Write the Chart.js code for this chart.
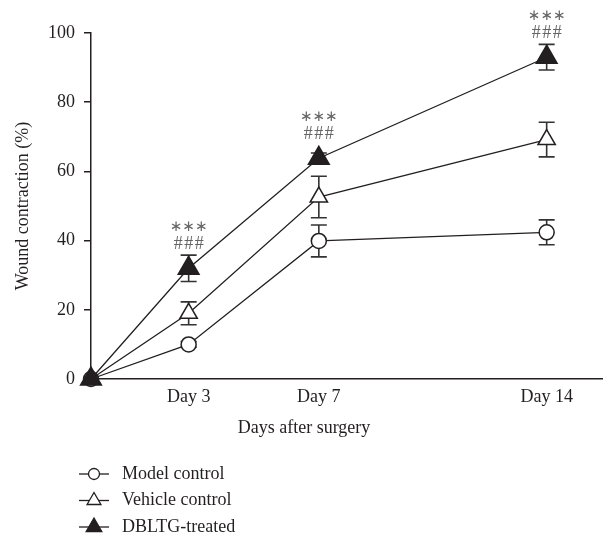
<!DOCTYPE html>
<html>
<head>
<meta charset="utf-8">
<script src="https://cdn.jsdelivr.net/npm/chart.js@4.4.1/dist/chart.umd.min.js"></script>
<style>
  body { margin: 0; background: #fff; }
  #wrap { width: 603px; height: 541px; position: relative; }
</style>
</head>
<body>
<div id="wrap"><canvas id="wound"></canvas></div>
<script>
// datos
var days = [0, 3, 7, 14];
var tickDays = [3, 7, 14];
var yTicks = [0, 20, 40, 60, 80, 100];
var modelMean = [0, 10, 39.9, 42.4];
var modelErr = [0, 0.8, 4.6, 3.6];
var vehicleMean = [0, 19, 52.6, 69.2];
var vehicleErr = [0, 3.3, 6.0, 5.0];
var dbltgMean = [0, 32, 63.8, 93];
var dbltgErr = [0, 3.8, 1.5, 3.7];
var sigStars = ['', '\u2217\u2217\u2217', '\u2217\u2217\u2217', '\u2217\u2217\u2217'];
var sigHash = ['', '###', '###', '###'];
var seriesNames = ['Model control', 'Vehicle control', 'DBLTG-treated'];
var xTitle = 'Days after surgery';

var ink = '#231f20';
var serif = '"Liberation Serif", "DejaVu Serif", serif';

function pts(mean) {
    return days.map(function (d, i) { return { x: d, y: mean[i] }; });
}

// barras de error, dibujadas antes de los puntos
var errorBars = {
    id: 'errorBars',
    beforeDatasetsDraw: function (chart) {
        var ctx = chart.ctx;
        var ys = chart.scales.y;
        chart.data.datasets.forEach(function (ds, di) {
            var meta = chart.getDatasetMeta(di);
            ctx.save();
            ctx.strokeStyle = '#333';
            ctx.lineWidth = 1.6;
            meta.data.forEach(function (pt, i) {
                var e = ds.errors[i];
                if (!e) return;
                var top = ys.getPixelForValue(ds.data[i].y + e);
                var bot = ys.getPixelForValue(ds.data[i].y - e);
                ctx.beginPath();
                ctx.moveTo(pt.x, top); ctx.lineTo(pt.x, bot);
                ctx.moveTo(pt.x - 8, top); ctx.lineTo(pt.x + 8, top);
                ctx.moveTo(pt.x - 8, bot); ctx.lineTo(pt.x + 8, bot);
                ctx.stroke();
            });
            ctx.restore();
        });
    },
    afterDatasetsDraw: function (chart) {
        // asteriscos y almohadillas sobre DBLTG
        var ctx = chart.ctx;
        var meta = chart.getDatasetMeta(2);
        ctx.save();
        ctx.fillStyle = '#666';
        ctx.textAlign = 'center';
        ctx.textBaseline = 'middle';
        meta.data.forEach(function (pt, i) {
            if (!sigStars[i]) return;
            ctx.letterSpacing = '0px';
            ctx.font = '15px "DejaVu Sans", sans-serif';
            ctx.fillText(sigStars[i], pt.x, pt.y - 41);
            ctx.letterSpacing = '1.5px';
            ctx.font = '18px ' + serif;
            ctx.fillText(sigHash[i], pt.x + 0.75, pt.y - 24);
        });
        ctx.restore();
    }
};

// leyenda propia: linea con el marcador encima, y titulo del eje x
var lineLegend = {
    id: 'lineLegend',
    afterDraw: function (chart) {
        var ctx = chart.ctx;
        ctx.save();
        ctx.fillStyle = ink;
        ctx.font = '18px ' + serif;
        ctx.textAlign = 'center';
        ctx.textBaseline = 'middle';
        ctx.fillText(xTitle, 304, 428);
        ctx.restore();

        var x0 = 79, x1 = 109, y0 = 474, gap = 26.5;
        chart.data.datasets.forEach(function (ds, i) {
            var y = y0 + i * gap;
            ctx.save();
            ctx.strokeStyle = ink;
            ctx.lineWidth = 1.3;
            ctx.beginPath();
            ctx.moveTo(x0, y); ctx.lineTo(x1, y);
            ctx.stroke();
            ctx.fillStyle = ds.pointBackgroundColor;
            Chart.helpers.drawPoint(ctx, {
                pointStyle: ds.pointStyle,
                rotation: 0,
                radius: ds.legendRadius,
                borderWidth: 1.3
            }, (x0 + x1) / 2, y);
            ctx.fillStyle = ink;
            ctx.font = '18px ' + serif;
            ctx.textBaseline = 'middle';
            ctx.textAlign = 'left';
            ctx.fillText(seriesNames[i], 122, y);
            ctx.restore();
        });
    }
};

var ctx = document.getElementById('wound').getContext('2d');
var chart = new Chart(ctx, {
    type: 'line',
    data: {
        datasets: [{
            label: seriesNames[0],
            data: pts(modelMean),
            errors: modelErr,
            pointStyle: 'circle',
            pointRadius: 7.5,
            legendRadius: 5.5,
            pointBackgroundColor: '#fff',
            order: 3
        }, {
            label: seriesNames[1],
            data: pts(vehicleMean),
            errors: vehicleErr,
            pointStyle: 'triangle',
            pointRadius: 10,
            legendRadius: 8,
            pointBackgroundColor: '#fff',
            order: 2
        }, {
            label: seriesNames[2],
            data: pts(dbltgMean),
            errors: dbltgErr,
            pointStyle: 'triangle',
            pointRadius: 12,
            legendRadius: 9,
            pointBackgroundColor: ink,
            order: 1
        }].map(function (d) {
            d.borderColor = ink;
            d.borderWidth = 1.3;
            d.pointBorderColor = ink;
            d.pointBorderWidth = 1.5;
            d.tension = 0;
            d.clip = false;
            return d;
        })
    },
    options: {
        responsive: true,
        maintainAspectRatio: false,
        animation: false,
        events: [],
        layout: { autoPadding: false, padding: { left: 0, right: 1, top: 33, bottom: 92 } },
        plugins: { legend: { display: false }, tooltip: { enabled: false } },
        scales: {
            x: {
                type: 'linear',
                min: 0,
                max: 15.7,
                grid: { display: false },
                border: { display: true, color: ink, width: 1.5 },
                afterBuildTicks: function (s) {
                    s.ticks = tickDays.map(function (v) { return { value: v }; });
                },
                afterFit: function (s) { s.height = 70; },
                ticks: {
                    color: ink,
                    padding: -1,
                    maxRotation: 0,
                    font: { family: serif, size: 18 },
                    callback: function (v) { return 'Day ' + v; }
                }
            },
            y: {
                min: 0,
                max: 100,
                grid: { display: true, drawOnChartArea: false, drawTicks: true, tickLength: 7, color: ink, lineWidth: 1.5 },
                border: { display: true, color: ink, width: 1.5 },
                afterBuildTicks: function (s) {
                    s.ticks = yTicks.map(function (v) { return { value: v }; });
                },
                afterFit: function (s) { s.width = 91; },
                ticks: {
                    color: ink,
                    padding: 9,
                    font: { family: serif, size: 18 }
                },
                title: {
                    display: true,
                    text: 'Wound contraction (%)',
                    color: ink,
                    font: { family: serif, size: 18 },
                    padding: { top: 12, bottom: 0 }
                }
            }
        }
    },
    plugins: [errorBars, lineLegend]
});
</script>
</body>
</html>
